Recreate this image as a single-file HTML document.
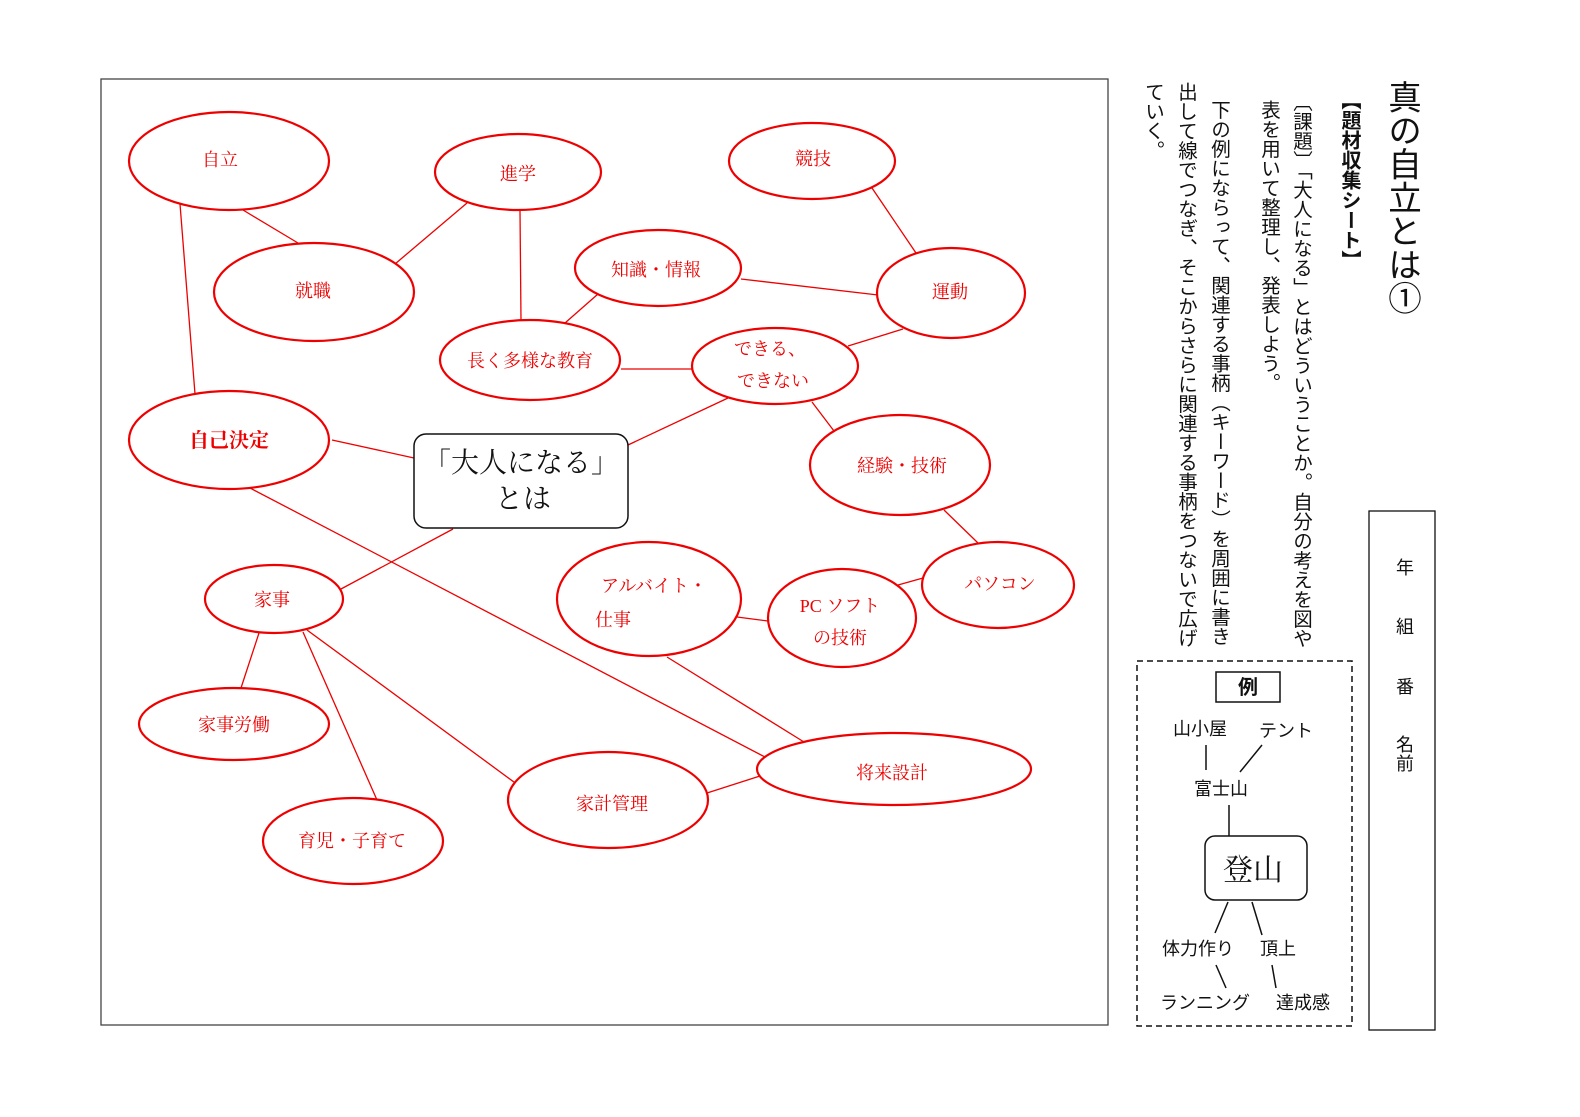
<!DOCTYPE html>
<html><head><meta charset="utf-8"><style>
body{margin:0;background:#fff;width:1580px;height:1117px;overflow:hidden;position:relative;font-family:"Liberation Sans","Noto Sans CJK JP",sans-serif}
.v{position:absolute;writing-mode:vertical-rl;white-space:nowrap;color:#111;line-height:1}
svg{position:absolute;left:0;top:0}
</style></head><body>
<svg width="1580" height="1117" viewBox="0 0 1580 1117">
<rect x="101" y="79" width="1007" height="946" fill="none" stroke="#444" stroke-width="1.3"/>
<g stroke="#e00" stroke-width="1.3" fill="none">
<line x1="243" y1="210" x2="298" y2="243"/>
<line x1="180" y1="204" x2="195" y2="394"/>
<line x1="395" y1="264" x2="467" y2="203"/>
<line x1="520" y1="211" x2="521" y2="321"/>
<line x1="598" y1="294" x2="565" y2="323"/>
<line x1="741" y1="279" x2="878" y2="295"/>
<line x1="872" y1="188" x2="916" y2="253"/>
<line x1="848" y1="346" x2="903" y2="329"/>
<line x1="621" y1="369" x2="692" y2="369"/>
<line x1="728" y1="398" x2="628" y2="445"/>
<line x1="812" y1="402" x2="834" y2="431"/>
<line x1="332" y1="440" x2="414" y2="458"/>
<line x1="944" y1="510" x2="978" y2="543"/>
<line x1="898" y1="585" x2="923" y2="578"/>
<line x1="737" y1="617" x2="768" y2="621"/>
<line x1="667" y1="657" x2="804" y2="742"/>
<line x1="250" y1="488" x2="765" y2="757"/>
<line x1="453" y1="529" x2="341" y2="589"/>
<line x1="259" y1="633" x2="241" y2="688"/>
<line x1="303" y1="632" x2="377" y2="800"/>
<line x1="307" y1="630" x2="518" y2="785"/>
<line x1="707" y1="793" x2="760" y2="776"/>
</g>
<g stroke="#e00" stroke-width="2.2" fill="#fff">
<ellipse cx="229" cy="161" rx="100" ry="49"/>
<ellipse cx="518" cy="172" rx="83" ry="38"/>
<ellipse cx="812" cy="161" rx="83" ry="38"/>
<ellipse cx="314" cy="292" rx="100" ry="49"/>
<ellipse cx="658" cy="268" rx="83" ry="38"/>
<ellipse cx="951" cy="293" rx="74" ry="45"/>
<ellipse cx="530" cy="360" rx="90" ry="40"/>
<ellipse cx="775" cy="366" rx="83" ry="38"/>
<ellipse cx="229" cy="440" rx="100" ry="49"/>
<ellipse cx="900" cy="465" rx="90" ry="50"/>
<ellipse cx="274" cy="599" rx="69" ry="34"/>
<ellipse cx="649" cy="599" rx="92" ry="57"/>
<ellipse cx="842" cy="618" rx="74" ry="49"/>
<ellipse cx="998" cy="585" rx="76" ry="43"/>
<ellipse cx="234" cy="724" rx="95" ry="36"/>
<ellipse cx="894" cy="769" rx="137" ry="36"/>
<ellipse cx="608" cy="800" rx="100" ry="48"/>
<ellipse cx="353" cy="841" rx="90" ry="43"/>
</g>
<rect x="414" y="434" width="214" height="94" rx="12" fill="#fff" stroke="#111" stroke-width="1.5"/>
<g fill="#e00" font-family="Liberation Serif,'Noto Serif CJK SC',serif" font-size="18" text-anchor="middle">
<text x="220" y="166">自立</text>
<text x="518" y="180">進学</text>
<text x="813" y="165">競技</text>
<text x="313" y="297">就職</text>
<text x="656" y="276">知識・情報</text>
<text x="950" y="298">運動</text>
<text x="530" y="367">長く多様な教育</text>
<text x="770" y="355">できる、</text>
<text x="773" y="387">できない</text>
<text x="229" y="447" font-weight="bold" font-size="20">自己決定</text>
<text x="902" y="472">経験・技術</text>
<text x="272" y="606">家事</text>
<text x="654" y="592">アルバイト・</text>
<text x="613" y="626">仕事</text>
<text x="840" y="612">PC ソフト</text>
<text x="840" y="644">の技術</text>
<text x="1000" y="590">パソコン</text>
<text x="234" y="731">家事労働</text>
<text x="892" y="779">将来設計</text>
<text x="612" y="810">家計管理</text>
<text x="352" y="847">育児・子育て</text>
</g>
<g fill="#111" font-family="Liberation Serif,'Noto Serif CJK SC',serif" font-size="28" text-anchor="middle">
<text x="521" y="472">「大人になる」</text>
<text x="523" y="508">とは</text>
</g>
<rect x="1137" y="661" width="215" height="365" fill="none" stroke="#111" stroke-width="1.5" stroke-dasharray="6,4"/>
<rect x="1216" y="672" width="64" height="30" fill="#fff" stroke="#111" stroke-width="1.5"/>
<text x="1248" y="694" font-size="20" font-weight="bold" text-anchor="middle" fill="#111" font-family="'Noto Sans CJK JP',sans-serif">例</text>
<rect x="1205" y="836" width="102" height="64" rx="10" fill="#fff" stroke="#111" stroke-width="1.5"/>
<g stroke="#111" stroke-width="1.5">
<line x1="1206" y1="745" x2="1206" y2="770"/>
<line x1="1262" y1="745" x2="1240" y2="772"/>
<line x1="1229" y1="805" x2="1229" y2="836"/>
<line x1="1228" y1="902" x2="1215" y2="933"/>
<line x1="1252" y1="902" x2="1262" y2="935"/>
<line x1="1216" y1="965" x2="1226" y2="988"/>
<line x1="1272" y1="965" x2="1276" y2="988"/>
</g>
<g fill="#111" font-family="'Noto Sans CJK JP',sans-serif" font-size="18" text-anchor="middle">
<text x="1200" y="735">山小屋</text>
<text x="1286" y="737">テント</text>
<text x="1221" y="795">富士山</text>
<text x="1253" y="880" font-size="30" font-family="'Noto Serif CJK SC',serif">登山</text>
<text x="1198" y="955">体力作り</text>
<text x="1278" y="955">頂上</text>
<text x="1205" y="1009">ランニング</text>
<text x="1303" y="1009">達成感</text>
</g>
<rect x="1369" y="511" width="66" height="519" fill="none" stroke="#111" stroke-width="1.3"/>
<g fill="#111" font-family="'Noto Sans CJK JP',sans-serif" font-size="18" text-anchor="middle">
<text x="1405" y="574">年</text>
<text x="1405" y="633">組</text>
<text x="1405" y="693">番</text>
<text x="1405" y="751">名</text>
<text x="1405" y="770">前</text>
</g>
</svg>
<div class="v" style="left:1384px;top:80px;font-size:33.5px">真の自立とは①</div>
<div class="v" style="left:1341px;top:90px;font-size:20px;font-weight:bold;font-family:'Noto Sans CJK JP',sans-serif">【題材収集シート】</div>
<div class="v" style="left:1290px;top:92px;font-size:19.5px">〔課題〕「大人になる」とはどういうことか。自分の考えを図や</div>
<div class="v" style="left:1258px;top:100px;font-size:19.5px">表を用いて整理し、発表しよう。</div>
<div class="v" style="left:1208px;top:100px;font-size:19.5px">下の例にならって、関連する事柄（キーワード）を周囲に書き</div>
<div class="v" style="left:1175px;top:82px;font-size:19.5px">出して線でつなぎ、そこからさらに関連する事柄をつないで広げ</div>
<div class="v" style="left:1142px;top:82px;font-size:19.5px">ていく。</div>
</body></html>
